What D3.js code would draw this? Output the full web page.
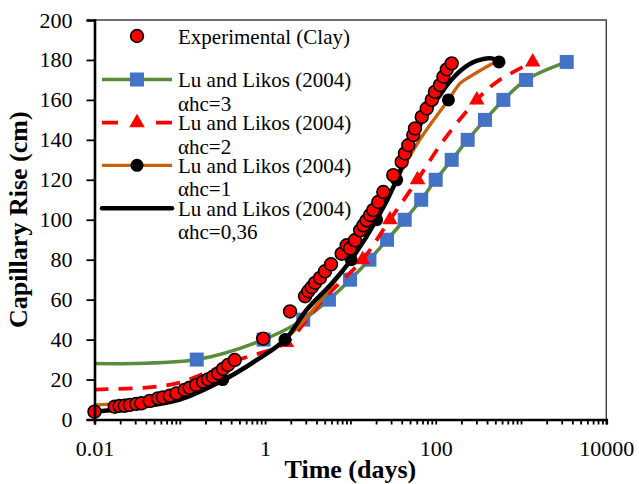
<!DOCTYPE html>
<html>
<head>
<meta charset="utf-8">
<script src="https://cdn.jsdelivr.net/npm/d3@7"></script>
<style>
  body { margin: 0; background: #fff; }
  svg { display: block; }
  text { font-family: "Liberation Serif", "Times New Roman", serif; fill: #000; }
</style>
</head>
<body>
<svg id="chart" width="639" height="484"></svg>
<script>
// Measured capillary rise in clay (days, cm)
const expDays = [0.01, 0.01725, 0.0197, 0.0226, 0.0259, 0.0309, 0.0354, 0.0444, 0.0555, 0.0635,
  0.0762, 0.091, 0.114, 0.13, 0.156, 0.187, 0.214, 0.245, 0.281, 0.321, 0.367, 0.44,
  0.95, 1.96, 2.94, 3.21, 3.52, 3.85, 4.4, 5.04, 5.93,
  7.9, 9.05, 9.9, 11.3, 13, 14.2, 15.5, 17, 18.5, 21.2, 24.3, 31.8, 39.9, 43.6, 47.7,
  54.6, 57.2, 68.6, 78.5, 90, 98, 112, 123, 135, 154];
const expRise = [3.9, 6.4, 6.8, 6.9, 7.3, 7.8, 8.1, 9.3, 10.6, 11.1,
  11.9, 13.1, 14.8, 15.9, 17.3, 18.9, 20.1, 21.4, 23.1, 25.3, 27.3, 29.8,
  40.5, 54.1, 61.7, 64.2, 66.2, 68.4, 70.9, 74.2, 77.7,
  83, 87.2, 85.6, 89.7, 94.7, 97.2, 99.7, 102.3, 104.8, 108.9, 113.9, 122.3, 129, 133.2, 137.3,
  142.4, 145.7, 151.5, 155.7, 160, 164, 167.4, 171.6, 175.3, 178.3];

// Lu and Likos (2004), αhc = 3
const a3Days = [0.01, 0.158, 0.96, 2.8, 5.6, 9.9, 16.7, 26.9, 43.3, 67.6, 100, 154, 237, 378, 621, 1146, 3434];
const a3Rise = [28, 30, 40, 50, 60, 70, 80, 90, 100, 110, 120, 130, 140, 150, 160, 170, 179];
const a3MarkDays = [0.158, 0.96, 2.8, 5.6, 9.9, 16.7, 26.9, 43.3, 67.6, 100, 154, 237, 378, 621, 1146, 3434];
const a3MarkRise = [30, 40, 50, 60, 70, 80, 90, 100, 110, 120, 130, 140, 150, 160, 170, 179];

// Lu and Likos (2004), αhc = 2
const a2Days = [0.01, 0.05, 0.1, 0.18, 0.5, 1.78, 3.08, 4.78, 8.2, 13.9, 29.1, 61.2, 125, 303, 519, 929, 1371];
const a2Rise = [15, 16.3, 18.5, 22.5, 30, 38.5, 50, 60, 70, 80, 100, 120, 140, 160, 169, 175.3, 179];
const a2MarkDays = [1.78, 13.9, 29.1, 61.2, 303, 1371];
const a2MarkRise = [38.5, 80, 100, 120, 160, 179];

// Lu and Likos (2004), αhc = 1
const a1Days = [0.01, 0.1, 0.318, 1.71, 10.2, 20.3, 34.9, 65, 141, 193, 252, 473, 552];
const a1Rise = [7.2, 12, 20, 40, 80, 100, 120, 140, 160, 168.3, 171.6, 178.3, 179];
const a1MarkDays = [0.318, 1.71, 10.2, 20.3, 34.9, 141, 552];
const a1MarkRise = [20, 40, 80, 100, 120, 160, 179];

// Lu and Likos (2004), αhc = 0,36
const a036Days = [0.01, 0.03, 0.1, 0.318, 0.8, 1.71, 3.08, 6, 10.2, 20.3, 34.9, 52, 85, 115, 141, 200, 300, 457, 552];
const a036Rise = [3.9, 6, 10, 19.5, 29.8, 40, 55, 68, 80, 100, 120, 140, 155, 163, 168.3, 175, 179.5, 180.8, 179];

// Axis ticks
const xTickLabels = ["0.01", "1", "100", "10000"];
const yTickValues = [0, 20, 40, 60, 80, 100, 120, 140, 160, 180, 200];

const legendLabels = [
  ["Experimental (Clay)"],
  ["Lu and Likos (2004)", "αhc=3"],
  ["Lu and Likos (2004)", "αhc=2"],
  ["Lu and Likos (2004)", "αhc=1"],
  ["Lu and Likos (2004)", "αhc=0,36"]
];

const zip = (xs, ys) => xs.map((d, i) => [d, ys[i]]);

const svg = d3.select("#chart");
const plotL = 94.5, plotR = 606.3, plotT = 20, plotB = 419.5;

const x = d3.scaleLog().domain([0.01, 10000]).range([plotL, plotR]);
const y = d3.scaleLinear().domain([0, 200]).range([plotB, plotT]);

const GREEN = "#5a8c3c", BLUE = "#4472c4", RED = "#ff0000", ORANGE = "#c8610f";

// plot frame (top and right edges)
svg.append("path")
  .attr("d", `M${plotL},${plotT}H${plotR}V${plotB}`)
  .attr("fill", "none").attr("stroke", "#404040").attr("stroke-width", 1.4);

const line = d3.line()
  .x(d => x(d[0])).y(d => y(d[1]))
  .curve(d3.curveCatmullRom.alpha(0.5));

const plot = svg.append("g");

// αhc = 3 : green line with blue squares
plot.append("path").datum(zip(a3Days, a3Rise)).attr("d", line)
  .attr("fill", "none").attr("stroke", GREEN).attr("stroke-width", 3.5);
plot.selectAll(".sq").data(zip(a3MarkDays, a3MarkRise)).join("rect")
  .attr("x", d => x(d[0]) - 7).attr("y", d => y(d[1]) - 7)
  .attr("width", 14).attr("height", 14).attr("fill", BLUE);

// αhc = 2 : red dashed line with triangles
plot.append("path").datum(zip(a2Days, a2Rise)).attr("d", line)
  .attr("fill", "none").attr("stroke", RED).attr("stroke-width", 3.8)
  .attr("stroke-dasharray", "14,10");
const tri = d3.symbol().type(d3.symbolTriangle).size(105);
plot.selectAll(".tri").data(zip(a2MarkDays, a2MarkRise)).join("path")
  .attr("d", tri).attr("transform", d => `translate(${x(d[0])},${y(d[1])})`)
  .attr("fill", RED);

// αhc = 1 : orange line with black dots
plot.append("path").datum(zip(a1Days, a1Rise)).attr("d", line)
  .attr("fill", "none").attr("stroke", ORANGE).attr("stroke-width", 3.3);
plot.selectAll(".dot").data(zip(a1MarkDays, a1MarkRise)).join("circle")
  .attr("cx", d => x(d[0])).attr("cy", d => y(d[1])).attr("r", 6.5).attr("fill", "#000");

// αhc = 0,36 : thick black line
plot.append("path").datum(zip(a036Days, a036Rise)).attr("d", line)
  .attr("fill", "none").attr("stroke", "#000").attr("stroke-width", 4.5);

// experimental points
plot.selectAll(".exp").data(zip(expDays, expRise)).join("circle")
  .attr("cx", d => x(d[0])).attr("cy", d => y(d[1])).attr("r", 6.4)
  .attr("fill", RED).attr("stroke", "#000").attr("stroke-width", 1.6);

// x axis: log ticks at every 1..9 × 10^k, labels every two decades
const xTickValues = [];
for (let e = -2; e <= 3; e++) for (let m = 1; m <= 9; m++) xTickValues.push(m * Math.pow(10, e));
xTickValues.push(10000);
const xAxis = d3.axisBottom(x).tickValues(xTickValues).tickSize(5).tickPadding(16)
  .tickFormat(d => {
    const s = xTickLabels.find(l => Math.abs(+l - d) / d < 1e-6);
    return s || "";
  });
const gx = svg.append("g").attr("transform", `translate(0,${plotB})`).call(xAxis);
gx.select(".domain").attr("stroke", "#000").attr("stroke-width", 2.6);
gx.selectAll(".tick line").attr("stroke", "#000").attr("stroke-width", 1.8);
gx.selectAll(".tick text").attr("font-size", 22).attr("font-family", "Liberation Serif");

// y axis
const yAxis = d3.axisLeft(y).tickValues(yTickValues).tickSize(8).tickPadding(14).tickFormat(d3.format("d"));
const gy = svg.append("g").attr("transform", `translate(${plotL},0)`).call(yAxis);
gy.select(".domain").attr("stroke", "#000").attr("stroke-width", 2.6);
gy.selectAll(".tick line").attr("stroke", "#000").attr("stroke-width", 1.8);
gy.selectAll(".tick text").attr("font-size", 22).attr("font-family", "Liberation Serif");

// axis titles
svg.append("text").attr("x", (plotL + plotR) / 2).attr("y", 478)
  .attr("text-anchor", "middle").attr("font-size", 26).attr("font-weight", "bold")
  .text("Time (days)");
svg.append("text").attr("transform", `translate(27,${(plotT + plotB) / 2}) rotate(-90)`)
  .attr("text-anchor", "middle").attr("font-size", 26).attr("font-weight", "bold")
  .text("Capillary Rise (cm)");

// legend
const lg = svg.append("g");
const symX = 137, lineX0 = 102, lineX1 = 172, textX = 178;
const rowY = [36, 79.5, 122.7, 165.3, 208.3];

legendLabels.forEach((lines, i) => {
  const ty = rowY[i] + 7.5;
  lines.forEach((s, j) => {
    lg.append("text").attr("x", textX).attr("y", ty + j * 23.5).attr("font-size", 21).text(s);
  });
});
lg.append("circle").attr("cx", symX).attr("cy", rowY[0]).attr("r", 6.4)
  .attr("fill", RED).attr("stroke", "#000").attr("stroke-width", 1.6);
lg.append("line").attr("x1", lineX0).attr("x2", lineX1).attr("y1", rowY[1]).attr("y2", rowY[1])
  .attr("stroke", GREEN).attr("stroke-width", 3.5);
lg.append("rect").attr("x", symX - 7).attr("y", rowY[1] - 7).attr("width", 14).attr("height", 14).attr("fill", BLUE);
lg.append("line").attr("x1", lineX0).attr("x2", lineX1).attr("y1", rowY[2]).attr("y2", rowY[2])
  .attr("stroke", RED).attr("stroke-width", 3.8).attr("stroke-dasharray", "16,38");
lg.append("path").attr("d", tri).attr("transform", `translate(${symX},${rowY[2]})`).attr("fill", RED);
lg.append("line").attr("x1", lineX0).attr("x2", lineX1).attr("y1", rowY[3]).attr("y2", rowY[3])
  .attr("stroke", ORANGE).attr("stroke-width", 3.3);
lg.append("circle").attr("cx", symX).attr("cy", rowY[3]).attr("r", 6.5).attr("fill", "#000");
lg.append("line").attr("x1", lineX0).attr("x2", lineX1).attr("y1", rowY[4]).attr("y2", rowY[4])
  .attr("stroke", "#000").attr("stroke-width", 4.5).attr("stroke-linecap", "round");
</script>
</body>
</html>
